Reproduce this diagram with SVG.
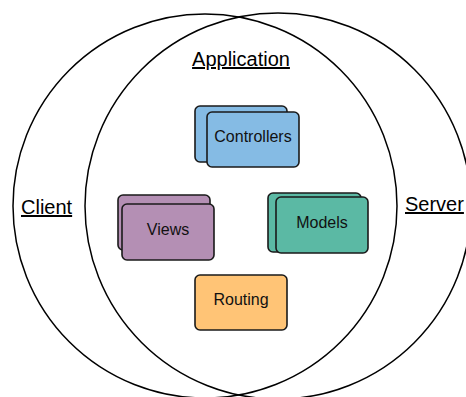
<svg xmlns="http://www.w3.org/2000/svg" width="466" height="397" viewBox="0 0 466 397">
  <style>
    .ring { fill: none; stroke: #000; stroke-width: 1.5; }
    .box { stroke: #1a1a1a; stroke-width: 1.6; }
    .label { font-family: "Liberation Sans", Arial, sans-serif; font-size: 20px; fill: #000; text-decoration: underline; }
    .name { font-family: "Liberation Sans", Arial, sans-serif; font-size: 16px; fill: #111; text-anchor: middle; }
    .ctrl { fill: #85BBE4; }
    .view { fill: #B48FB4; }
    .model { fill: #5BB9A4; }
    .route { fill: #FFC476; }
  </style>
  <rect width="466" height="397" fill="#fff"/>

  <!-- Overlapping scopes -->
  <g id="client-scope">
    <circle class="ring" cx="205" cy="206" r="192"/>
    <text class="label" x="21" y="214">Client</text>
  </g>
  <g id="server-scope">
    <circle class="ring" cx="278" cy="206" r="193"/>
    <text class="label" x="405" y="211">Server</text>
  </g>
  <g id="application-label">
    <text class="label" x="241" y="66" text-anchor="middle">Application</text>
  </g>

  <g id="connectors"></g>

  <g id="controllers">
    <rect class="box ctrl" x="195" y="106" width="92" height="56" rx="5"/>
    <rect class="box ctrl" x="207" y="112" width="92" height="55" rx="5"/>
    <text class="name" x="253" y="142">Controllers</text>
  </g>

  <g id="views">
    <rect class="box view" x="118" y="195" width="92" height="55" rx="5"/>
    <rect class="box view" x="122" y="204" width="92" height="56" rx="5"/>
    <text class="name" x="168" y="235">Views</text>
  </g>

  <g id="models">
    <rect class="box model" x="268" y="193" width="93" height="59" rx="5"/>
    <rect class="box model" x="276" y="197" width="92" height="56" rx="5"/>
    <text class="name" x="322" y="228">Models</text>
  </g>

  <g id="routing">
    <rect class="box route" x="195" y="275" width="92" height="55" rx="5"/>
    <text class="name" x="241" y="305">Routing</text>
  </g>
</svg>
